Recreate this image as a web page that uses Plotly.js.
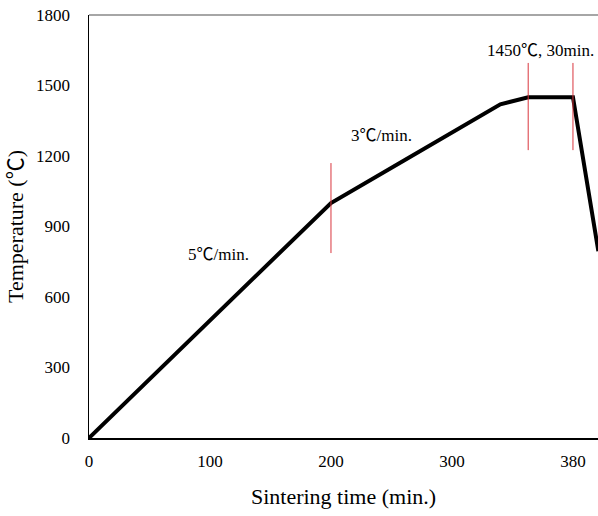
<!DOCTYPE html>
<html>
<head>
<meta charset="utf-8">
<script src="https://cdn.plot.ly/plotly-3.0.1.min.js"></script>
<style>html,body{margin:0;padding:0;background:#fff;}#chart{width:598px;height:516px;}</style>
</head>
<body>
<div id="chart"></div>
<script>
// Sintering profile (time in min, temperature in °C)
const timeMin = [0, 100, 160, 200, 260, 300, 320, 340, 363, 400, 421];
const tempC   = [0, 500, 800, 1000, 1180, 1300, 1360, 1420, 1450, 1450, 795];

// Stage markers (red vertical lines)
const markerX    = [200, 363, 400];
const markerYLow = [787, 1225, 1225];
const markerYHigh= [1170, 1596, 1596];

// Labels
const labelText = ["5℃/min.", "3℃/min.", "1450℃, 30min."];
const labelX    = [107, 242, 373];
const labelY    = [779, 1289, 1651];

const xTickVals = [0, 100, 200, 300, 400];
const xTickText = ["0", "100", "200", "300", "380"];
const yTickVals = [0, 300, 600, 900, 1200, 1500, 1800];

const font = "'Liberation Serif', 'Noto Sans CJK SC', serif";

const traces = [{
  x: timeMin, y: tempC, type: "scatter", mode: "lines",
  line: {color: "#000", width: 4}, hoverinfo: "skip", cliponaxis: true
}];

const shapes = markerX.map((x, i) => ({
  type: "line", xref: "x", yref: "y", x0: x, x1: x,
  y0: markerYLow[i], y1: markerYHigh[i],
  line: {color: "#d9363e", width: 1}
}));
shapes.push({type: "line", xref: "paper", yref: "paper", x0: 0, x1: 1, y0: 1, y1: 1,
  line: {color: "#888", width: 1.5}});

const annotations = labelText.map((t, i) => ({
  x: labelX[i], y: labelY[i], xref: "x", yref: "y", text: t, showarrow: false,
  font: {family: font, size: 17, color: "#000"}
}));

const layout = {
  width: 598, height: 516,
  margin: {l: 89, r: 0, t: 15, b: 78},
  paper_bgcolor: "#fff", plot_bgcolor: "#fff",
  showlegend: false,
  font: {family: font, size: 17, color: "#000"},
  xaxis: {
    range: [0, 420.7], tickvals: xTickVals, ticktext: xTickText,
    showgrid: false, zeroline: false, showline: true, linecolor: "#000", linewidth: 1.5,
    ticks: "", ticklabelstandoff: 7,
    tickfont: {family: font, size: 17},
    title: {text: "Sintering time (min.)", font: {family: font, size: 22}, standoff: 18}
  },
  yaxis: {
    range: [0, 1800], tickvals: yTickVals,
    showgrid: false, zeroline: false, showline: true, linecolor: "#000", linewidth: 1.5,
    ticks: "", ticklabelstandoff: 14,
    tickfont: {family: font, size: 17},
    title: {text: "Temperature (℃)", font: {family: font, size: 22}, standoff: 6}
  },
  shapes: shapes,
  annotations: annotations
};

Plotly.newPlot("chart", traces, layout, {displayModeBar: false, staticPlot: true});
</script>
</body>
</html>
